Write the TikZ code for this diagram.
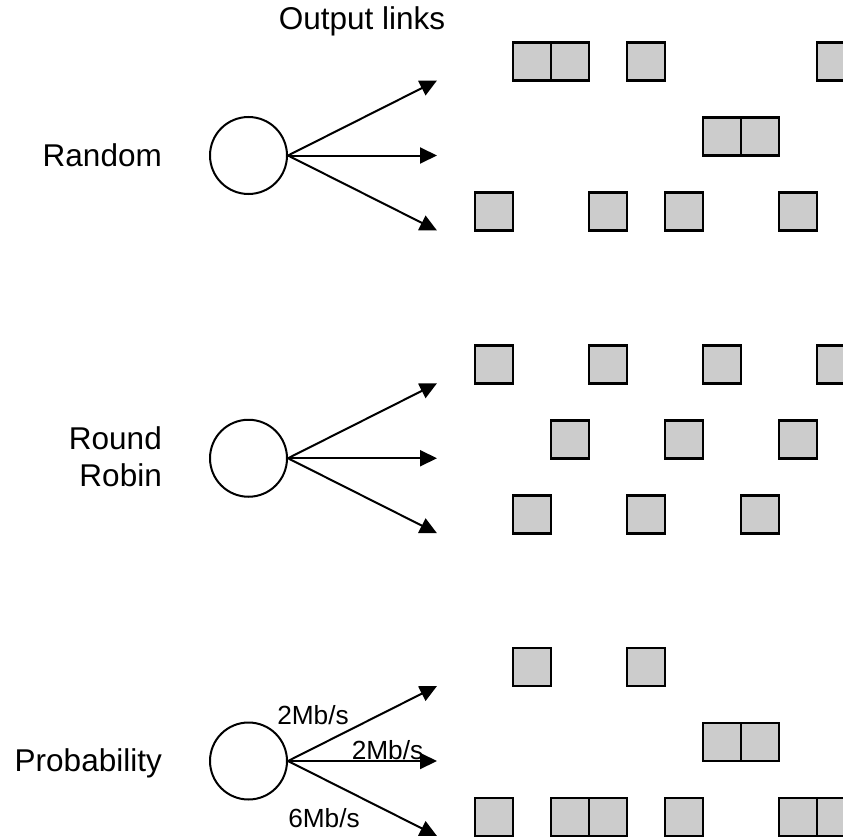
\documentclass[tikz,border=0pt]{standalone}
\usepackage{fontspec}
\setmainfont{Liberation Sans}
\usetikzlibrary{arrows.meta}

\begin{document}
\begin{tikzpicture}[x=1pt, y=-1pt,
    src/.style={draw, circle, line width=2pt, minimum size=77pt, inner sep=0pt},
    pkt/.style={draw, line width=2.6pt, fill=black!20, minimum size=38pt, inner sep=0pt},
    lbl/.style={font=\fontsize{31.5}{37}\selectfont, inner sep=0pt},
    rate/.style={font=\fontsize{26.25}{30}\selectfont, inner sep=0pt},
    arr/.style={-{Triangle[length=17pt, width=16pt]}, line width=2pt}
]
\useasboundingbox (0,0) rectangle (843,840);
\clip (0,0) rectangle (843,840);

\node[lbl, anchor=base] (head) at (362,30) {Output links};

% sources and output links
\foreach \i/\y in {1/155.5, 2/458.25, 3/761} {
  \node[src] (c\i) at (248.5,\y) {};
  \coordinate (t\i a) at (437,{\y-75});
  \coordinate (t\i b) at (437,\y);
  \coordinate (t\i c) at (437,{\y+75});
  \draw[arr] (c\i.east) -- (t\i a);
  \draw[arr] (c\i.east) -- (t\i b);
  \draw[arr] (c\i.east) -- (t\i c);
}

\node[lbl, anchor=base east] (l1) at (162,166.5) {Random};
\node[lbl, anchor=east, align=right] (l2) at (162,457) {Round\\Robin};
\node[lbl, anchor=base east] (l3) at (162,771.5) {Probability};

% packets: Random
\foreach \k in {1,2,4,9} \node[pkt] (p1a\k) at ({494+38*\k},61.5) {};
\foreach \k in {6,7} \node[pkt] (p1b\k) at ({494+38*\k},136.5) {};
\foreach \k in {0,3,5,8} \node[pkt] (p1c\k) at ({494+38*\k},211.5) {};

% packets: Round Robin
\foreach \k in {0,3,6,9} \node[pkt] (p2a\k) at ({494+38*\k},364.25) {};
\foreach \k in {2,5,8} \node[pkt] (p2b\k) at ({494+38*\k},439.25) {};
\foreach \k in {1,4,7} \node[pkt] (p2c\k) at ({494+38*\k},514.25) {};

% packets: Probability
\foreach \k in {1,4} \node[pkt] (p3a\k) at ({494+38*\k},667) {};
\foreach \k in {6,7} \node[pkt] (p3b\k) at ({494+38*\k},742) {};
\foreach \k in {0,2,3,5,8,9} \node[pkt] (p3c\k) at ({494+38*\k},817) {};

\node[rate, anchor=base] (r1) at (313,724) {2Mb/s};
\node[rate, anchor=base] (r2) at (387.5,759) {2Mb/s};
\node[rate, anchor=base] (r3) at (324,827) {6Mb/s};
\end{tikzpicture}
\end{document}
